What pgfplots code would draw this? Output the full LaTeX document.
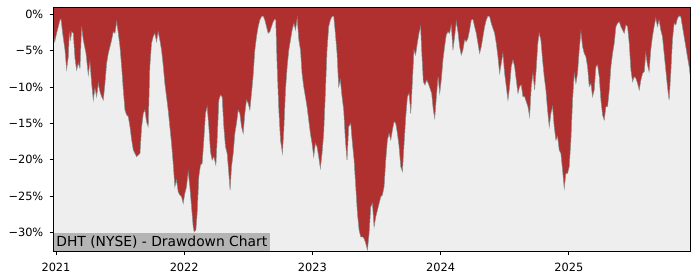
\documentclass[border=0pt]{standalone}
\usepackage{fontspec}
\setmainfont{DejaVu Sans}
\usepackage{pgfplots}
\usepackage{pgfplotstable}
\pgfplotsset{compat=1.18}
\definecolor{ddred}{RGB}{176,48,48}
\definecolor{bggray}{RGB}{238,238,238}
\definecolor{edgegray}{RGB}{135,145,145}
\definecolor{boxgray}{RGB}{180,180,180}
\pgfplotstableread{
x y
2020.979 -2.6
2020.990 -3.8
2021.005 -2.6
2021.018 -1.70
2021.031 -0.78
2021.039 -0.64
2021.052 -2.61
2021.070 -4.91
2021.083 -7.60
2021.096 -5.83
2021.104 -2.61
2021.114 -3.53
2021.122 -2.39
2021.135 -2.61
2021.148 -6.06
2021.161 -7.66
2021.174 -6.74
2021.187 -7.43
2021.200 -1.70
2021.213 -3.53
2021.234 -5.37
2021.252 -8.35
2021.265 -6.51
2021.278 -9.50
2021.291 -11.79
2021.304 -10.18
2021.317 -11.33
2021.330 -9.50
2021.343 -10.64
2021.356 -11.33
2021.369 -11.79
2021.382 -9.50
2021.395 -6.74
2021.408 -5.37
2021.421 -4.45
2021.434 -3.53
2021.447 -2.39
2021.460 -2.61
2021.473 -1.01
2021.486 -2.61
2021.499 -4.45
2021.512 -7.20
2021.525 -10.41
2021.538 -13.17
2021.551 -13.85
2021.564 -14.08
2021.577 -15.46
2021.590 -17.29
2021.603 -18.67
2021.616 -19.13
2021.629 -19.59
2021.642 -19.36
2021.655 -19.13
2021.668 -15.46
2021.681 -13.62
2021.694 -13.17
2021.706 -14.77
2021.719 -15.46
2021.732 -7.20
2021.745 -3.99
2021.758 -3.07
2021.771 -2.61
2021.784 -3.76
2021.797 -2.39
2021.810 -3.53
2021.823 -4.91
2021.836 -6.97
2021.849 -9.50
2021.862 -11.33
2021.875 -13.17
2021.888 -15.46
2021.901 -17.75
2021.914 -20.50
2021.927 -23.72
2021.940 -22.80
2021.953 -24.40
2021.966 -24.86
2021.979 -25.09
2021.992 -26.01
2022.005 -24.63
2022.018 -23.72
2022.031 -21.65
2022.044 -23.72
2022.057 -26.47
2022.070 -29.22
2022.078 -29.91
2022.091 -29.68
2022.101 -27.39
2022.114 -22.34
2022.127 -20.73
2022.140 -20.50
2022.153 -17.29
2022.166 -13.62
2022.179 -12.71
2022.192 -15.46
2022.205 -18.90
2022.218 -20.05
2022.231 -19.59
2022.247 -20.73
2022.257 -17.29
2022.270 -11.79
2022.283 -11.10
2022.296 -11.33
2022.309 -15.46
2022.322 -18.21
2022.335 -19.13
2022.348 -21.88
2022.358 -24.17
2022.369 -20.96
2022.382 -19.13
2022.395 -16.38
2022.408 -15.00
2022.421 -13.17
2022.434 -13.62
2022.447 -15.46
2022.460 -16.38
2022.473 -13.62
2022.486 -11.79
2022.499 -12.25
2022.512 -13.17
2022.525 -10.87
2022.538 -8.35
2022.551 -4.91
2022.564 -3.07
2022.577 -1.70
2022.590 -0.78
2022.603 -0.32
2022.616 -0.23
2022.629 -0.78
2022.642 -1.70
2022.655 -2.61
2022.668 -2.39
2022.681 -1.70
2022.694 -1.01
2022.706 -0.69
2022.714 -0.78
2022.725 -7.20
2022.738 -13.17
2022.751 -17.29
2022.766 -19.13
2022.777 -15.92
2022.790 -10.41
2022.803 -7.20
2022.816 -4.91
2022.829 -3.53
2022.842 -2.16
2022.855 -1.24
2022.868 -2.16
2022.881 -0.55
2022.894 -3.53
2022.907 -4.91
2022.919 -8.12
2022.932 -9.95
2022.945 -11.33
2022.958 -12.71
2022.971 -14.54
2022.984 -16.38
2022.997 -17.75
2023.010 -19.59
2023.023 -17.75
2023.036 -18.21
2023.049 -19.59
2023.062 -21.19
2023.075 -19.13
2023.088 -16.38
2023.101 -10.87
2023.114 -4.91
2023.127 -1.70
2023.140 -0.78
2023.153 -0.32
2023.166 -0.23
2023.179 -2.61
2023.192 -5.37
2023.205 -9.95
2023.218 -9.04
2023.231 -11.33
2023.244 -13.17
2023.257 -17.29
2023.270 -20.05
2023.283 -15.46
2023.299 -15.00
2023.312 -17.75
2023.325 -20.05
2023.338 -23.72
2023.351 -27.39
2023.364 -29.68
2023.377 -30.60
2023.390 -30.60
2023.403 -30.83
2023.416 -31.51
2023.429 -32.43
2023.442 -30.14
2023.455 -26.47
2023.468 -26.01
2023.481 -29.22
2023.494 -27.84
2023.507 -26.93
2023.520 -26.01
2023.533 -25.09
2023.546 -24.86
2023.559 -23.72
2023.572 -20.05
2023.585 -17.29
2023.598 -16.38
2023.611 -17.29
2023.624 -15.92
2023.637 -14.77
2023.650 -15.00
2023.663 -16.38
2023.676 -18.21
2023.689 -20.96
2023.702 -21.65
2023.715 -17.75
2023.728 -14.08
2023.741 -11.33
2023.754 -10.87
2023.767 -13.62
2023.779 -9.50
2023.792 -4.91
2023.805 -5.60
2023.818 -3.99
2023.831 -2.61
2023.844 -1.70
2023.852 -4.91
2023.865 -9.27
2023.878 -9.72
2023.891 -9.04
2023.904 -9.50
2023.917 -10.18
2023.930 -10.87
2023.943 -13.17
2023.954 -14.31
2023.967 -11.33
2023.980 -8.58
2023.993 -10.87
2024.005 -9.04
2024.018 -6.28
2024.031 -4.45
2024.044 -2.84
2024.057 -2.39
2024.070 -2.61
2024.083 -1.47
2024.096 -4.91
2024.109 -3.07
2024.122 -1.01
2024.135 -2.39
2024.148 -4.45
2024.161 -5.60
2024.174 -4.91
2024.187 -3.53
2024.200 -3.76
2024.213 -3.30
2024.226 -2.16
2024.239 -0.78
2024.252 -0.69
2024.265 -1.70
2024.278 -2.61
2024.291 -3.99
2024.304 -5.37
2024.317 -4.45
2024.330 -3.07
2024.343 -1.70
2024.356 -0.78
2024.369 -0.23
2024.382 -0.32
2024.395 -1.24
2024.408 -1.93
2024.421 -2.61
2024.434 -3.99
2024.447 -5.83
2024.460 -8.12
2024.473 -6.74
2024.486 -5.37
2024.499 -8.12
2024.512 -9.95
2024.525 -11.79
2024.538 -9.95
2024.551 -7.20
2024.564 -6.28
2024.577 -7.20
2024.590 -9.04
2024.603 -10.87
2024.616 -9.95
2024.629 -9.72
2024.642 -11.33
2024.655 -11.33
2024.668 -12.02
2024.681 -12.71
2024.694 -14.08
2024.707 -9.95
2024.720 -8.12
2024.733 -10.41
2024.745 -7.66
2024.758 -3.99
2024.769 -2.61
2024.782 -3.53
2024.795 -6.28
2024.808 -8.58
2024.821 -10.41
2024.834 -13.17
2024.847 -15.46
2024.860 -13.62
2024.873 -12.71
2024.886 -15.46
2024.899 -17.29
2024.912 -16.83
2024.925 -18.67
2024.938 -19.13
2024.951 -21.42
2024.964 -23.94
2024.977 -21.88
2024.990 -21.88
2025.003 -20.96
2025.016 -17.29
2025.029 -11.79
2025.042 -8.12
2025.055 -9.50
2025.068 -8.12
2025.081 -4.91
2025.094 -2.39
2025.107 -4.45
2025.120 -5.37
2025.133 -5.83
2025.146 -7.20
2025.159 -9.95
2025.172 -9.50
2025.185 -11.33
2025.198 -10.41
2025.211 -7.20
2025.224 -6.97
2025.237 -8.58
2025.250 -11.79
2025.263 -13.85
2025.276 -14.54
2025.289 -12.71
2025.302 -12.71
2025.315 -10.41
2025.328 -7.20
2025.341 -5.37
2025.354 -3.99
2025.367 -1.70
2025.380 -1.24
2025.393 -1.01
2025.406 -1.70
2025.419 -2.16
2025.432 -2.61
2025.445 -1.47
2025.458 -1.70
2025.471 -3.99
2025.484 -7.66
2025.497 -9.27
2025.510 -8.58
2025.523 -8.81
2025.536 -9.50
2025.549 -10.41
2025.562 -9.04
2025.575 -8.12
2025.588 -7.89
2025.600 -5.37
2025.613 -6.97
2025.626 -7.89
2025.639 -4.91
2025.652 -3.07
2025.665 -1.70
2025.678 -0.55
2025.691 -1.70
2025.704 -0.78
2025.717 -2.16
2025.730 -3.07
2025.743 -5.37
2025.756 -7.66
2025.769 -9.95
2025.782 -11.79
2025.795 -8.12
2025.808 -3.53
2025.821 -1.24
2025.834 -1.47
2025.847 -0.55
2025.860 -0.23
2025.873 -0.32
2025.886 -1.70
2025.899 -3.07
2025.912 -4.45
2025.925 -5.83
2025.938 -7.20
2025.948 -8.58
}\dd
\begin{document}
\begin{tikzpicture}
\path[use as bounding box] (-53.3bp,-28.3bp) rectangle (646.7bp,251.7bp);
\begin{axis}[
  at={(0,0)}, anchor=south west,
  scale only axis, width=636.7bp, height=244.4bp,
  xmin=2020.979, xmax=2025.945,
  ymin=-32.65, ymax=0.96,
  axis background/.style={fill=bggray},
  axis line style={line width=0.8bp, black},
  tick style={line width=0.8bp, black},
  major tick length=3.5bp,
  tick align=outside,
  tick pos=left,
  xtick={2021,2022,2023,2024,2025},
  xticklabels={2021,2022,2023,2024,2025},
  ytick={-30,-25,-20,-15,-10,-5,0},
  yticklabels={−30\%,−25\%,−20\%,−15\%,−10\%,−5\%,0\%},
  ticklabel style={font=\fontsize{11.4}{13}\selectfont},
  xticklabel style={yshift=-4bp},
  yticklabel style={xshift=-3bp},
  axis on top,
]
\addplot[fill=ddred, draw=none] table {\dd} |- (axis cs:2020.979,5) -- cycle;
\addplot[draw=edgegray, line width=0.5bp] table {\dd};
\node[anchor=south west, fill=boxgray, inner xsep=2.9bp, inner ysep=0pt,
  text height=13.5bp, text depth=5bp,
  font=\fontsize{13.9}{16}\selectfont] at (rel axis cs:0,0) {DHT (NYSE) - Drawdown Chart};
\end{axis}
\end{tikzpicture}
\end{document}
